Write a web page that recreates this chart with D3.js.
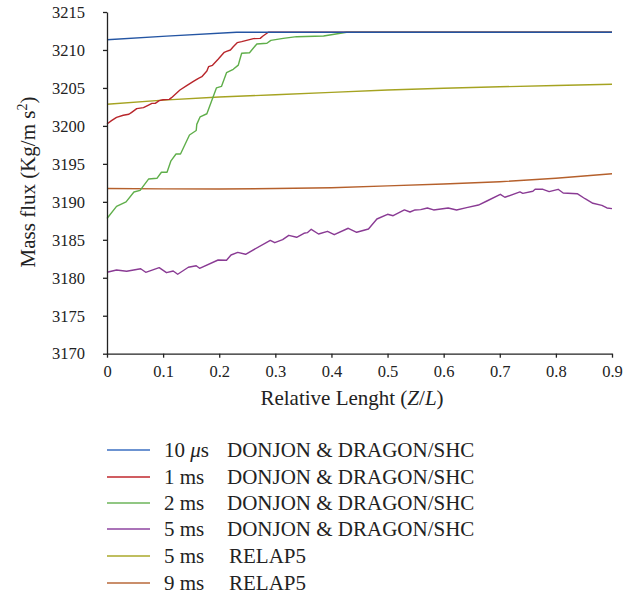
<!DOCTYPE html>
<html><head><meta charset="utf-8">
<script src="https://cdn.jsdelivr.net/npm/d3@7/dist/d3.min.js"></script>
<style>body{margin:0;background:#fff}svg{display:block}</style>
</head><body><svg id="c" width="637" height="599" font-family="Liberation Serif"></svg>
<script>
const xTicks=[0,0.1,0.2,0.3,0.4,0.5,0.6,0.7,0.8,0.9];
const yTicks=[3170,3175,3180,3185,3190,3195,3200,3205,3210,3215];
const blue10us=[[0,3211.35],[0.106,3211.82],[0.231,3212.33],[0.9,3212.33]];
const red1ms=[[0,3200.25],[0.008,3200.69],[0.017,3201.13],[0.029,3201.4],[0.039,3201.53],[0.044,3201.79],[0.053,3202.27],[0.065,3202.4],[0.074,3202.75],[0.080,3202.97],[0.086,3202.97],[0.093,3203.32],[0.100,3203.45],[0.111,3203.49],[0.115,3203.72],[0.130,3204.73],[0.142,3205.3],[0.154,3205.87],[0.163,3206.27],[0.169,3206.48],[0.178,3207.23],[0.181,3207.8],[0.188,3207.98],[0.198,3208.77],[0.209,3209.69],[0.213,3209.82],[0.220,3210.0],[0.225,3210.43],[0.232,3210.96],[0.240,3211.09],[0.261,3211.49],[0.273,3211.53],[0.278,3211.84],[0.2875,3212.33],[0.9,3212.33]];
const green2ms=[[0,3187.8],[0.017,3189.4],[0.034,3190.0],[0.048,3191.3],[0.059,3191.5],[0.074,3193.0],[0.089,3193.1],[0.097,3193.9],[0.107,3193.9],[0.114,3195.4],[0.123,3196.3],[0.131,3196.3],[0.147,3198.8],[0.159,3199.4],[0.160,3200.2],[0.166,3201.2],[0.178,3201.6],[0.195,3205.0],[0.204,3205.2],[0.213,3207.0],[0.225,3207.45],[0.234,3208.0],[0.236,3208.55],[0.240,3209.56],[0.254,3209.64],[0.267,3210.79],[0.285,3210.88],[0.292,3211.27],[0.314,3211.53],[0.338,3211.75],[0.386,3211.84],[0.427,3212.33],[0.9,3212.33]];
const purple5ms=[[0,3180.72],[0.017,3181.02],[0.035,3180.85],[0.060,3181.19],[0.069,3180.72],[0.093,3181.33],[0.106,3180.67],[0.118,3180.89],[0.126,3180.46],[0.145,3181.38],[0.159,3181.59],[0.165,3181.25],[0.198,3182.34],[0.213,3182.3],[0.221,3183.0],[0.233,3183.35],[0.247,3183.09],[0.291,3184.93],[0.299,3184.62],[0.313,3185.02],[0.324,3185.59],[0.338,3185.33],[0.351,3185.86],[0.357,3185.94],[0.364,3186.38],[0.377,3185.76],[0.393,3186.12],[0.405,3185.67],[0.430,3186.52],[0.445,3185.99],[0.466,3186.42],[0.481,3187.74],[0.500,3188.36],[0.510,3188.17],[0.530,3188.93],[0.540,3188.66],[0.549,3188.93],[0.559,3188.97],[0.571,3189.19],[0.582,3188.93],[0.608,3189.19],[0.623,3188.93],[0.641,3189.23],[0.662,3189.58],[0.677,3190.11],[0.701,3190.99],[0.709,3190.6],[0.736,3191.3],[0.741,3191.12],[0.759,3191.39],[0.763,3191.65],[0.777,3191.65],[0.788,3191.34],[0.804,3191.65],[0.813,3191.16],[0.838,3191.07],[0.852,3190.41],[0.866,3189.81],[0.882,3189.54],[0.891,3189.19],[0.9,3189.1]];
const relap5ms=[[0,3202.85],[0.1,3203.4],[0.2,3203.8],[0.3,3204.1],[0.4,3204.42],[0.5,3204.72],[0.6,3204.95],[0.7,3205.15],[0.8,3205.33],[0.9,3205.48]];
const relap9ms=[[0,3191.75],[0.1,3191.7],[0.2,3191.7],[0.3,3191.75],[0.4,3191.85],[0.5,3192.1],[0.6,3192.35],[0.7,3192.65],[0.8,3193.1],[0.9,3193.7]];
const legendTimes=["10 \u03bcs","1 ms","2 ms","5 ms","5 ms","9 ms"];
const legendCodes=["DONJON & DRAGON/SHC","DONJON & DRAGON/SHC","DONJON & DRAGON/SHC","DONJON & DRAGON/SHC","RELAP5","RELAP5"];

const series=[
 {d:relap9ms,c:"#b5602c"},
 {d:relap5ms,c:"#a5a321"},
 {d:purple5ms,c:"#8a3b94"},
 {d:green2ms,c:"#5fae4a"},
 {d:red1ms,c:"#b8262b"},
 {d:blue10us,c:"#2455a3"}
];
const legColors=["#3b6fc2","#c0272d","#6cb45a","#8e45a0","#aaa82a","#b8693a"];

const svg=d3.select("#c");
function ft(sel,size){return sel.style("font-family",'"Liberation Serif"').attr("font-size",size).attr("fill","#222");}
const x=d3.scaleLinear().domain([0,0.9]).range([107,612]);
const y=d3.scaleLinear().domain([3170,3215]).range([353.7,12]);

const line=d3.line().x(d=>x(d[0])).y(d=>y(d[1]));
series.forEach(s=>{
  svg.append("path").attr("d",line(s.d)).attr("fill","none").attr("stroke",s.c).attr("stroke-width",1.4).attr("stroke-linejoin","round");
});

const gx=svg.append("g").attr("transform",`translate(0,${y(3170)})`)
 .call(d3.axisBottom(x).tickValues(xTicks).tickFormat(d=>d===0?"0":d3.format(".1f")(d)).tickSize(4).tickSizeOuter(0).tickPadding(7.5));
const gy=svg.append("g").attr("transform",`translate(${x(0)},0)`)
 .call(d3.axisLeft(y).tickValues(yTicks).tickFormat(d3.format("d")).tickSize(4).tickSizeOuter(0).tickPadding(18));
[gx,gy].forEach(g=>{
 g.attr("font-family","Liberation Serif").attr("font-size",16.5);
 g.selectAll("path,line").attr("stroke","#222").attr("stroke-width",1.3);
 ft(g.selectAll("text"),16.5);
});

ft(svg.append("text").attr("x",352).attr("y",405).attr("text-anchor","middle"),21)
 .html('Relative Lenght (<tspan font-style="italic">Z</tspan>/<tspan font-style="italic">L</tspan>)');

ft(svg.append("text").attr("transform","translate(35,182) rotate(-90)").attr("text-anchor","middle"),21)
 .html('Mass flux (Kg/m s<tspan dy="-8" font-size="14">2</tspan><tspan dy="8">)</tspan>');

const rows=[450,477,503,529,556,583];
legendTimes.forEach((t,i)=>{
 const ry=rows[i];
 svg.append("line").attr("x1",107).attr("x2",150).attr("y1",ry).attr("y2",ry).attr("stroke",legColors[i]).attr("stroke-width",1.5);
 const tt=ft(svg.append("text").attr("x",164).attr("y",ry+7),21);
 if(t.indexOf("\u03bc")>=0){tt.text("10 ");tt.append("tspan").attr("font-style","italic").text("\u03bc");tt.append("tspan").text("s");}
 else tt.text(t);
 ft(svg.append("text").attr("x",legendCodes[i]==="RELAP5"?229:227).attr("y",ry+7),21).text(legendCodes[i]);
});
</script></body></html>
